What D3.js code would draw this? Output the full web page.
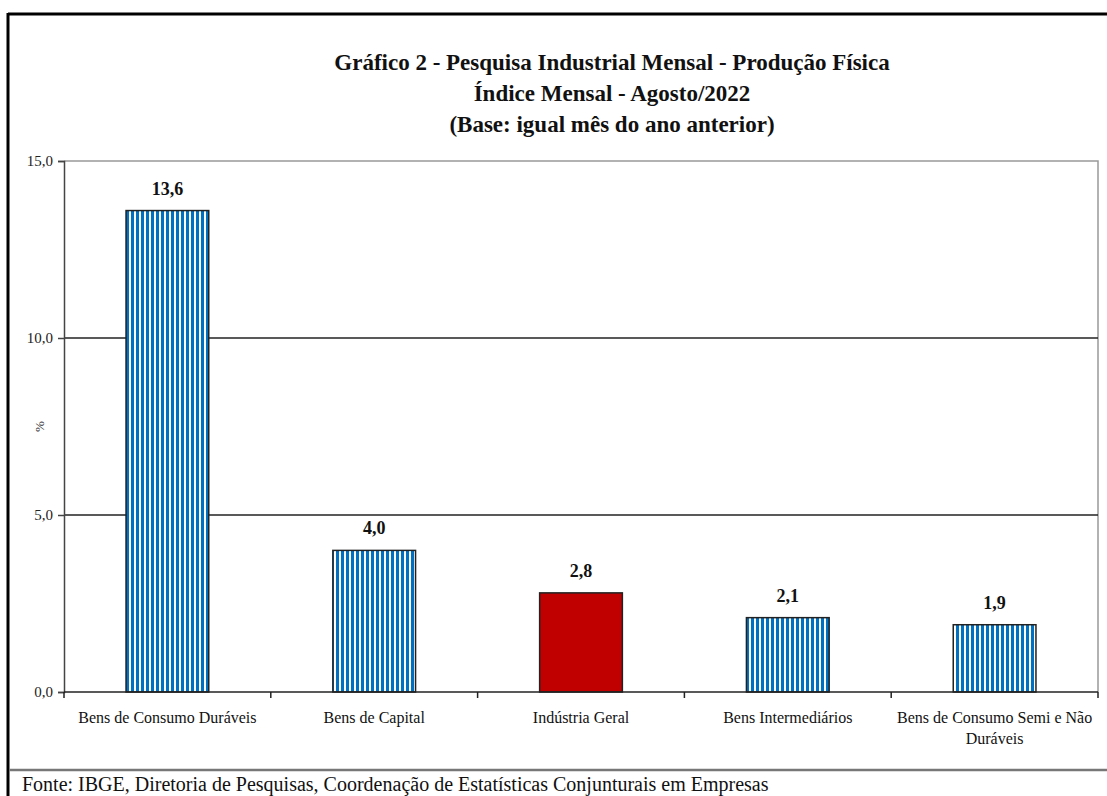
<!DOCTYPE html>
<html lang="pt">
<head>
<meta charset="utf-8">
<script src="https://d3js.org/d3.v7.min.js"></script>
<style>
  html, body { margin: 0; padding: 0; background: #fff; }
  svg { display: block; font-family: "Liberation Serif", "DejaVu Serif", serif; }
</style>
</head>
<body>
<script>
// chart data
const categories = [
  ["Bens de Consumo Duráveis"],
  ["Bens de Capital"],
  ["Indústria Geral"],
  ["Bens Intermediários"],
  ["Bens de Consumo Semi e Não", "Duráveis"]
];
const values = [13.6, 4.0, 2.8, 2.1, 1.9];
const highlight = [false, false, true, false, false];
const yTicks = [0, 5, 10, 15];
const titleLines = [
  "Gráfico 2 - Pesquisa Industrial Mensal - Produção Física",
  "Índice Mensal - Agosto/2022",
  "(Base: igual mês do ano anterior)"
];
const footer = "Fonte: IBGE, Diretoria de Pesquisas, Coordenação de Estatísticas Conjunturais em Empresas";

const width = 1107, height = 796;
const margin = {top: 161, right: 9, bottom: 104, left: 64};
const fmt = v => d3.format(".1f")(v).replace(".", ",");

const svg = d3.select("body").append("svg")
  .attr("width", width)
  .attr("height", height);

// striped fill
svg.append("defs").append("pattern")
  .attr("id", "stripes")
  .attr("patternUnits", "userSpaceOnUse")
  .attr("width", 5).attr("height", 10)
  .call(p => {
    p.append("rect").attr("width", 5).attr("height", 10).attr("fill", "#fff");
    p.append("rect").attr("x", 1).attr("width", 3).attr("height", 10).attr("fill", "#0070C0");
  });

// outer frame
svg.append("line").attr("x1", 8).attr("x2", width).attr("y1", 14).attr("y2", 14)
  .attr("stroke", "#000").attr("stroke-width", 3);
svg.append("line").attr("x1", 8).attr("x2", 8).attr("y1", 13).attr("y2", height)
  .attr("stroke", "#000").attr("stroke-width", 3);
svg.append("line").attr("x1", 9).attr("x2", width).attr("y1", 770).attr("y2", 770)
  .attr("stroke", "#777").attr("stroke-width", 2.5);

// title
svg.append("g").selectAll("text").data(titleLines).join("text")
  .attr("x", 612)
  .attr("y", (d, i) => 70 + i * 31)
  .attr("text-anchor", "middle")
  .attr("font-weight", "bold")
  .attr("font-size", 23)
  .attr("fill", "#111")
  .text(d => d);

const x = d3.scaleBand()
  .domain(d3.range(categories.length))
  .range([margin.left, width - margin.right])
  .paddingInner(0.6)
  .paddingOuter(0.3);

const y = d3.scaleLinear()
  .domain([0, 15])
  .range([height - margin.bottom, margin.top]);

// plot border (top / right)
svg.append("path")
  .attr("d", `M${margin.left},${y(15)}H${width - margin.right}V${y(0)}`)
  .attr("fill", "none").attr("stroke", "#999").attr("stroke-width", 1.5);

// gridlines
svg.append("g").selectAll("line").data([5, 10]).join("line")
  .attr("x1", margin.left).attr("x2", width - margin.right)
  .attr("y1", d => y(d)).attr("y2", d => y(d))
  .attr("stroke", "#222").attr("stroke-width", 1.5);

// bars
svg.append("g").selectAll("rect").data(values).join("rect")
  .attr("x", (d, i) => x(i))
  .attr("y", d => y(d))
  .attr("width", x.bandwidth())
  .attr("height", d => y(0) - y(d))
  .attr("fill", (d, i) => highlight[i] ? "#C00000" : "url(#stripes)")
  .attr("stroke", "#222").attr("stroke-width", 1.5);

// value labels
svg.append("g").selectAll("text").data(values).join("text")
  .attr("x", (d, i) => x(i) + x.bandwidth() / 2)
  .attr("y", d => y(d) - 16)
  .attr("text-anchor", "middle")
  .attr("font-weight", "bold")
  .attr("font-size", 18)
  .attr("fill", "#111")
  .text(fmt);

// y axis
const yAxis = svg.append("g")
  .attr("transform", `translate(${margin.left},0)`)
  .call(d3.axisLeft(y).tickValues(yTicks).tickFormat(fmt).tickSize(6).tickPadding(5));
yAxis.select(".domain").attr("stroke", "#444").attr("stroke-width", 1.5);
yAxis.selectAll(".tick line").attr("stroke", "#444").attr("stroke-width", 1.5);
yAxis.selectAll(".tick text")
  .attr("font-family", "Liberation Serif, serif")
  .attr("font-size", 15).attr("fill", "#222");

// x axis
const band = (width - margin.right - margin.left) / categories.length;
const xAxis = svg.append("g")
  .attr("transform", `translate(0,${y(0)})`);
xAxis.append("line")
  .attr("x1", margin.left).attr("x2", width - margin.right)
  .attr("stroke", "#222").attr("stroke-width", 1.5);
xAxis.selectAll("line.tk").data(d3.range(categories.length + 1)).join("line")
  .attr("class", "tk")
  .attr("x1", i => margin.left + i * band).attr("x2", i => margin.left + i * band)
  .attr("y1", 0).attr("y2", 6)
  .attr("stroke", "#222").attr("stroke-width", 1.5);
xAxis.selectAll("text").data(categories).join("text")
  .attr("x", (d, i) => x(i) + x.bandwidth() / 2)
  .attr("y", 31)
  .attr("text-anchor", "middle")
  .attr("font-size", 16)
  .attr("fill", "#111")
  .selectAll("tspan").data(d => d).join("tspan")
  .attr("x", function () { return this.parentNode.getAttribute("x"); })
  .attr("dy", (d, i) => i ? 21 : 0)
  .text(d => d);

// y axis title
svg.append("text")
  .attr("transform", `translate(44,${y(7.5)}) rotate(-90)`)
  .attr("text-anchor", "middle")
  .attr("font-size", 13)
  .attr("fill", "#333")
  .text("%");

// footer
svg.append("text")
  .attr("x", 22).attr("y", 791)
  .attr("font-size", 20)
  .attr("fill", "#111")
  .text(footer);
</script>
</body>
</html>
